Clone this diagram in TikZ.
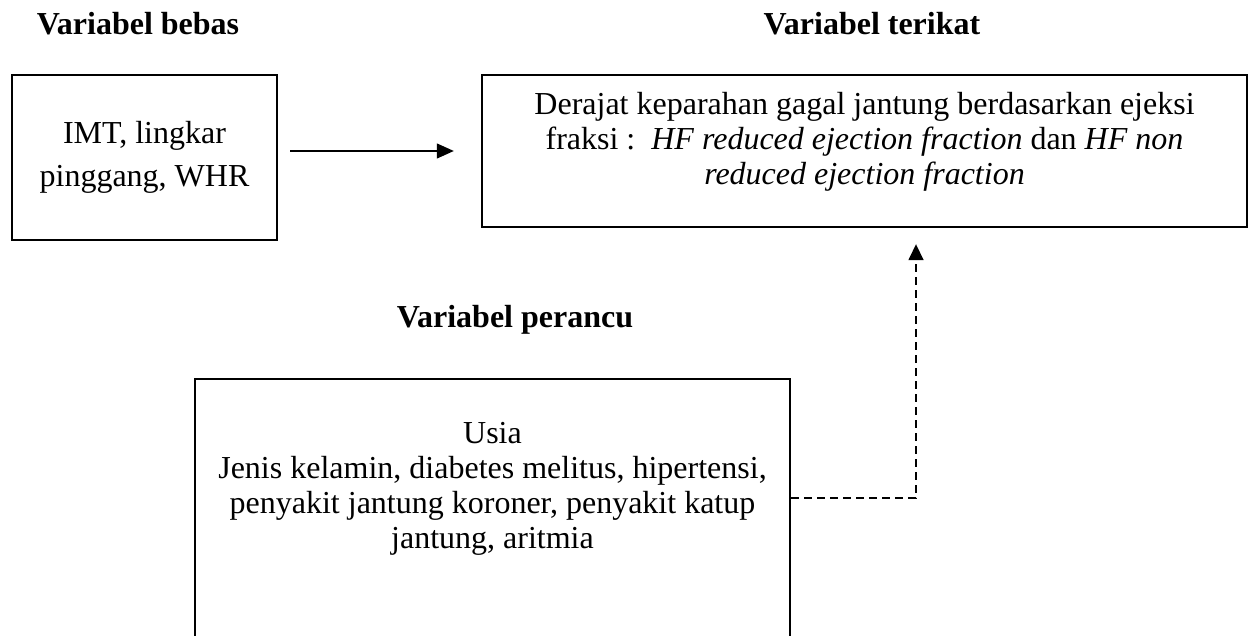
\documentclass[tikz,border=0pt]{standalone}
\usepackage{fontspec}
\setmainfont{Liberation Serif}
\usetikzlibrary{arrows.meta,positioning}

\tikzset{
  varbox/.style={draw, line width=2.4pt, inner sep=0pt},
  boxtext/.style={align=center, font=\fontsize{32}{35}\selectfont},
  heading/.style={anchor=base, font=\fontsize{32}{35}\selectfont\bfseries},
  solidarrow/.style={line width=1.3pt, -{Triangle[length=17pt,width=15pt]}},
  dasharrow/.style={line width=1.6pt, dash pattern=on 8pt off 5pt, -{Triangle[length=16pt,width=15pt]}}
}

\begin{document}
\begin{tikzpicture}[x=1pt,y=1pt]

\useasboundingbox (0,0) rectangle (1251,635);
\clip (0,0) rectangle (1251,635);

% headings of the three groups
\node[heading] (bebas) at (138,600) {Variabel bebas};
\node[heading] (terikat) at (872,600) {Variabel terikat};
\node[heading] (perancu) at (515,307) {Variabel perancu};

% boxes
\node[varbox, boxtext, font=\fontsize{32}{43}\selectfont, minimum width=265pt, minimum height=165pt] (ind) at (144.5,477.5) {IMT, lingkar\\pinggang, WHR};
\node[varbox, minimum width=765pt, minimum height=152pt] (dep) at (864.5,484) {};
\node[boxtext, yshift=9pt] (deptext) at (dep.center) {Derajat keparahan gagal jantung berdasarkan ejeksi\\fraksi :\ \ \textit{HF reduced ejection fraction} dan \textit{HF non}\\\textit{reduced ejection fraction}};

% the bottom box runs off the page
\node[varbox, anchor=north, minimum width=595pt, minimum height=320pt] (conf) at (492.5,257) {};
\node[boxtext] (conftext) at ([yshift=-111pt]conf.north) {Usia\\Jenis kelamin, diabetes melitus, hipertensi,\\penyakit jantung koroner, penyakit katup\\jantung, aritmia};

% arrows
\draw[solidarrow, shorten <=12pt, shorten >=27pt] (ind.east |- dep.west) -- (dep.west);
\draw[dasharrow, shorten >=16pt] ([yshift=-120pt]conf.north east) -| ([xshift=51.5pt]dep.south);

\end{tikzpicture}
\end{document}
